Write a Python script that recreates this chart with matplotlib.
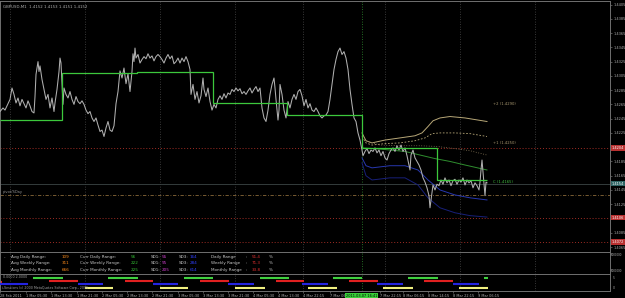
import matplotlib
matplotlib.use('Agg')
import matplotlib.pyplot as plt
import numpy as np

# ---------------- data ----------------
symbol_title = "GBPUSD,M1  1.4152 1.4153 1.4151 1.4152"

close_series = [
    (0, 1.4255), (3, 1.4260), (5, 1.4257), (8, 1.4266), (10, 1.4272), (12, 1.4288), (14, 1.4279),
    (16, 1.4267), (18, 1.4274), (20, 1.4263), (22, 1.4272), (24, 1.4266), (26, 1.4260), (28, 1.4270),
    (30, 1.4263), (32, 1.4255), (34, 1.4253), (35, 1.4276), (36, 1.4307), (37, 1.4316), (38, 1.4325),
    (39, 1.4311), (40, 1.4319), (42, 1.4300), (44, 1.4286), (46, 1.4272), (48, 1.4279), (50, 1.4260),
    (52, 1.4274), (54, 1.4255), (55, 1.4267), (57, 1.4286), (59, 1.4311), (60, 1.4330), (61, 1.4323),
    (62, 1.4293), (63, 1.4265), (64, 1.4288), (66, 1.4279), (68, 1.4274), (70, 1.4283), (72, 1.4272),
    (74, 1.4265), (76, 1.4276), (78, 1.4269), (80, 1.4266), (82, 1.4270), (84, 1.4265), (86, 1.4257),
    (88, 1.4252), (90, 1.4255), (92, 1.4246), (94, 1.4241), (96, 1.4246), (98, 1.4236), (100, 1.4227),
    (102, 1.4229), (104, 1.4220), (106, 1.4232), (108, 1.4241), (110, 1.4229), (112, 1.4227), (114, 1.4235),
    (116, 1.4266), (118, 1.4283), (120, 1.4312), (122, 1.4302), (124, 1.4316), (126, 1.4294), (128, 1.4308),
    (130, 1.4283), (132, 1.4311), (133, 1.4336), (134, 1.4325), (135, 1.4344), (136, 1.4330), (138, 1.4335),
    (140, 1.4323), (142, 1.4328), (144, 1.4332), (146, 1.4329), (148, 1.4336), (150, 1.4330), (152, 1.4333),
    (154, 1.4326), (156, 1.4332), (158, 1.4335), (160, 1.4332), (162, 1.4328), (164, 1.4323), (166, 1.4330),
    (168, 1.4335), (170, 1.4329), (172, 1.4333), (174, 1.4322), (176, 1.4325), (178, 1.4330), (180, 1.4323),
    (182, 1.4330), (184, 1.4325), (186, 1.4332), (188, 1.4325), (190, 1.4314), (191, 1.4279), (193, 1.4293),
    (195, 1.4272), (197, 1.4283), (199, 1.4267), (201, 1.4277), (203, 1.4302), (204, 1.4286), (206, 1.4276),
    (208, 1.4288), (210, 1.4269), (212, 1.4257), (214, 1.4265), (216, 1.4260), (218, 1.4272), (220, 1.4277),
    (222, 1.4272), (224, 1.4280), (226, 1.4274), (228, 1.4281), (230, 1.4279), (232, 1.4286), (234, 1.4283),
    (236, 1.4288), (238, 1.4284), (240, 1.4287), (242, 1.4280), (244, 1.4283), (246, 1.4279), (248, 1.4284),
    (250, 1.4288), (252, 1.4281), (254, 1.4286), (256, 1.4290), (258, 1.4283), (260, 1.4288), (262, 1.4260),
    (264, 1.4246), (266, 1.4241), (268, 1.4257), (270, 1.4279), (272, 1.4293), (274, 1.4302), (275, 1.4288),
    (276, 1.4272), (278, 1.4243), (279, 1.4257), (280, 1.4293), (282, 1.4279), (284, 1.4257), (286, 1.4246),
    (288, 1.4269), (290, 1.4260), (292, 1.4272), (294, 1.4279), (296, 1.4272), (298, 1.4283), (300, 1.4286),
    (302, 1.4277), (304, 1.4263), (306, 1.4272), (308, 1.4260), (310, 1.4266), (312, 1.4257), (314, 1.4255),
    (316, 1.4260), (318, 1.4255), (320, 1.4249), (322, 1.4246), (324, 1.4249), (326, 1.4250), (328, 1.4255),
    (330, 1.4272), (332, 1.4293), (334, 1.4314), (336, 1.4328), (338, 1.4339), (340, 1.4344), (342, 1.4335),
    (344, 1.4339), (346, 1.4330), (348, 1.4314), (350, 1.4286), (352, 1.4265), (354, 1.4246), (356, 1.4241),
    (358, 1.4225), (360, 1.4215), (362, 1.4201), (363, 1.4193), (365, 1.4199), (367, 1.4203), (369, 1.4196),
    (371, 1.4201), (373, 1.4199), (375, 1.4204), (377, 1.4197), (379, 1.4201), (381, 1.4193), (383, 1.4199),
    (385, 1.4190), (387, 1.4187), (389, 1.4196), (391, 1.4201), (393, 1.4204), (395, 1.4199), (397, 1.4207),
    (399, 1.4201), (401, 1.4208), (403, 1.4199), (405, 1.4204), (407, 1.4193), (409, 1.4180), (410, 1.4173),
    (411, 1.4194), (413, 1.4201), (415, 1.4190), (417, 1.4185), (419, 1.4180), (421, 1.4173), (423, 1.4162),
    (425, 1.4156), (427, 1.4148), (429, 1.4137), (430, 1.4120), (431, 1.4131), (432, 1.4142), (433, 1.4152),
    (435, 1.4145), (437, 1.4153), (439, 1.4151), (441, 1.4159), (443, 1.4153), (445, 1.4162), (447, 1.4155),
    (449, 1.4159), (451, 1.4151), (453, 1.4158), (455, 1.4160), (457, 1.4153), (459, 1.4159), (461, 1.4156),
    (463, 1.4162), (465, 1.4152), (467, 1.4159), (469, 1.4155), (471, 1.4158), (473, 1.4148), (475, 1.4155),
    (477, 1.4151), (479, 1.4145), (480, 1.4156), (481, 1.4173), (482, 1.4187), (483, 1.4170), (484, 1.4152),
    (485, 1.4137), (486, 1.4156), (487, 1.4155),
]

# daily open step line
step_edges = [0, 62, 137, 213, 287, 362, 437, 487]
step_levels = [1.4243, 1.4309, 1.4311, 1.4267, 1.4250, 1.4204, 1.4159]

# today's bands
band_x_ma = [362, 375, 390, 405, 420, 435, 450, 465, 487]
band_ma = [1.4204, 1.4203, 1.4201, 1.4199, 1.4194, 1.4189, 1.4185, 1.4180, 1.4173]

band_x_u1 = [362, 366, 372, 385, 400, 415, 422, 428, 433, 440, 450, 465, 487]
band_u1 = [1.4225, 1.4214, 1.4211, 1.4215, 1.4218, 1.4221, 1.4225, 1.4234, 1.4242, 1.4246, 1.4248, 1.4246, 1.4241]
band_x_u2 = [362, 366, 372, 385, 400, 415, 425, 432, 440, 455, 470, 487]
band_u2 = [1.4220, 1.4211, 1.4208, 1.4210, 1.4211, 1.4214, 1.4218, 1.4224, 1.4225, 1.4225, 1.4224, 1.4220]
band_x_u3 = [362, 380, 400, 420, 437, 455, 470, 487]
band_u3 = [1.4215, 1.4208, 1.4207, 1.4207, 1.4206, 1.4203, 1.4200, 1.4194]

band_x_low = [362, 366, 372, 390, 405, 418, 428, 440, 455, 470, 487]
band_l1 = [1.4190, 1.4179, 1.4176, 1.4179, 1.4179, 1.4173, 1.4159, 1.4145, 1.4138, 1.4134, 1.4131]
band_l2 = [1.4183, 1.4165, 1.4159, 1.4162, 1.4162, 1.4152, 1.4134, 1.4120, 1.4113, 1.4109, 1.4107]

red_levels = [1.4204, 1.4106, 1.4072]
red_labels = ["1.4204", "1.4106", "1.4072"]
pivot_level = 1.4138
bid_level = 1.4154
bid_label = "1.4154"
price_ticks = [1.4065, 1.4085, 1.4125, 1.4145, 1.4165, 1.4185, 1.4225, 1.4245, 1.4265,
               1.4285, 1.4305, 1.4325, 1.4345, 1.4365, 1.4385, 1.4405]

band_labels = ["+2 (1.4290)", "+1 (1.4250)", "C (1.4165)"]
band_label_prices = [1.4265, 1.4211, 1.4156]

grid_x = [10, 85, 160, 235, 303, 385, 460, 535]
separator_x = 362

# range panel
avg_labels = ["Avg Daily Range:", "Avg Weekly Range:", "Avg Monthly Range:"]
avg_vals = [109, 311, 666]
cur_labels = ["Curr Daily Range:", "Curr Weekly Range:", "Curr Monthly Range:"]
cur_vals = [56, 222, 225]
sd1_vals = [55, 95, 205]
sd3_vals = [164, 284, 614]
pct_labels = ["Daily Range", "Weekly Range", "Monthly Range"]
pct_vals = [51.4, 71.3, 33.8]

# sessions panel
sess_green = [(33, 63), (108, 138), (184, 213), (260, 289), (333, 362), (408, 438), (484, 488)]
sess_red = [(49, 78), (125, 153), (200, 229), (276, 304), (349, 378), (424, 453)]
sess_blue = [(0, 28), (78, 103), (153, 178), (228, 254), (302, 328), (377, 403), (453, 479)]
sess_yellow = [(85, 113), (160, 188), (235, 265), (308, 337), (383, 413), (459, 488)]

time_ticks = [0, 26, 51, 77, 102, 127, 152, 178, 203, 228, 253, 278, 303, 330, 380, 403, 428, 453, 478]
time_labels = ["28 Feb 2011", "1 Mar 05:30", "1 Mar 13:30", "1 Mar 21:30", "2 Mar 05:30", "2 Mar 13:30",
               "2 Mar 21:30", "3 Mar 05:30", "3 Mar 13:30", "3 Mar 21:30", "4 Mar 05:30", "4 Mar 13:30",
               "4 Mar 22:15", "7 Mar 06:", "7 Mar 22:15", "8 Mar 06:15", "8 Mar 14:15", "8 Mar 22:15",
               "9 Mar 06:15"]
cursor_time = "2011.03.07 16:41"

# ---------------- figure ----------------
W, H = 625, 298
fig = plt.figure(figsize=(W / 100, H / 100), dpi=100, facecolor='black')


def fy(p):
    return 1 - p / H


XR = 610 / W
ax = fig.add_axes([0, fy(252), XR, fy(1) - fy(252)])
ax1 = fig.add_axes([0, fy(274), XR, fy(252) - fy(274)])
ax2 = fig.add_axes([0, fy(291), XR, fy(274) - fy(291)])

FS = 3.0
RFS = 2.5
TFS = 2.5
for a in (ax, ax1, ax2):
    a.set_facecolor('black')
    a.set_xlim(0, 610)
    for s in a.spines.values():
        s.set_color('#707070')
        s.set_linewidth(0.7)
    for gx in grid_x:
        a.axvline(gx, color='#4a4a4a', lw=0.6, ls=(0, (1, 2)), zorder=0)
    a.axvline(separator_x, color='#2f8f2f', lw=0.6, ls=(0, (1, 2)), zorder=0)

# main chart
ax.set_ylim(1.4058, 1.4410)
for lv in red_levels:
    ax.axhline(lv, color='#a02c24', lw=0.7, ls=(0, (1, 2)), zorder=1)
ax.axhline(pivot_level, color='#8a6a3a', lw=0.6, ls=(0, (4, 2, 1, 2)), zorder=1)
ax.axhline(bid_level, color='#3c4646', lw=0.6, zorder=1)

cx = [p[0] for p in close_series]
cy = [p[1] for p in close_series]
ax.plot(cx, cy, color='#b0b0b0', lw=0.75, zorder=3)
ax.stairs(step_levels, step_edges, color='#3cc83c', lw=0.9, baseline=None, zorder=4)

ax.plot(band_x_ma, band_ma, color='#2f8f2f', lw=0.7, zorder=2)
ax.plot(band_x_u1, band_u1, color='#b8a878', lw=0.7, zorder=2)
ax.plot(band_x_u2, band_u2, color='#b8a878', lw=0.6, ls=(0, (2, 2)), zorder=2)
ax.plot(band_x_u3, band_u3, color='#8a7a5a', lw=0.6, ls=(0, (1, 2)), zorder=2)
ax.plot(band_x_low, band_l1, color='#2838b0', lw=0.7, zorder=2)
ax.plot(band_x_low, band_l2, color='#18207a', lw=0.7, zorder=2)

for txt, pr, col in zip(band_labels, band_label_prices, ['#a89870', '#a89870', '#40c040']):
    ax.text(493, pr, txt, color=col, fontsize=FS - 0.3, va='center', ha='left')

ax.text(3, pivot_level + 0.0001, "pivot/SDay", color='#909090', fontsize=FS - 0.4, va='bottom', ha='left')
ax.text(3, 1.4402, symbol_title, color='#b0b0b0', fontsize=FS - 0.2, va='center', ha='left')

ax.set_xticks([])
ax.yaxis.tick_right()
ax.set_yticks(price_ticks)
ax.set_yticklabels([f"{t:.4f}" for t in price_ticks])
ax.tick_params(axis='y', colors='#707070', labelcolor='#b0b0b0', labelsize=RFS, length=1.5, width=0.5, pad=0.8)

for lv, lb in zip(red_levels, red_labels):
    ax.text(1.003, lv, lb, transform=ax.get_yaxis_transform(), fontsize=RFS, color='white', va='center',
            ha='left', bbox=dict(boxstyle='square,pad=0.2', fc='#b83030', ec='none'), zorder=10, clip_on=False)
ax.text(1.003, bid_level, bid_label, transform=ax.get_yaxis_transform(), fontsize=RFS, color='white',
        va='center', ha='left', bbox=dict(boxstyle='square,pad=0.2', fc='#2f6464', ec='none'), zorder=10,
        clip_on=False)

# range panel
ax1.set_ylim(0, 1)
ax1.set_xticks([])
ax1.set_yticks([])
ax1.text(1.002, 0.85, "5000000", transform=ax1.transAxes, fontsize=2.0, color='#b0b0b0', va='center')
ax1.text(1.002, 0.12, "5000000", transform=ax1.transAxes, fontsize=2.0, color='#b0b0b0', va='center')
row_y = [0.77, 0.48, 0.2]
LBL = '#c8c8c8'
ax1.text(4, row_y[0], "-", color=LBL, fontsize=FS, va='center')
for i in range(3):
    y = row_y[i]
    ax1.text(11, y, avg_labels[i], color=LBL, fontsize=FS, va='center')
    ax1.text(62, y, str(avg_vals[i]), color='#ff8c1a', fontsize=FS, va='center')
    ax1.text(80, y, cur_labels[i], color=LBL, fontsize=FS, va='center')
    ax1.text(131, y, str(cur_vals[i]), color='#34c034', fontsize=FS, va='center')
    ax1.text(151, y, "SD1:", color=LBL, fontsize=FS, va='center')
    ax1.text(162, y, str(sd1_vals[i]), color='#d040d0', fontsize=FS, va='center')
    ax1.text(179, y, "SD3:", color=LBL, fontsize=FS, va='center')
    ax1.text(190, y, str(sd3_vals[i]), color='#3040ff', fontsize=FS, va='center')
    ax1.text(211, y, pct_labels[i], color=LBL, fontsize=FS, va='center')
    ax1.text(246, y, ":", color=LBL, fontsize=FS, va='center')
    ax1.text(252, y, f"{pct_vals[i]:.1f}", color='#e03030', fontsize=FS, va='center')
    ax1.text(269, y, "%", color=LBL, fontsize=FS, va='center')

# sessions panel
ax2.set_ylim(0, 5)
ax2.set_yticks([])
for spans, yv, col in [(sess_green, 3.85, '#40d040'), (sess_red, 2.95, '#e02020'),
                       (sess_blue, 2.05, '#2424e0'), (sess_yellow, 0.9, '#f0f080')]:
    for s0, s1 in spans:
        ax2.hlines(yv, s0, s1, colors=col, lw=1.5, zorder=3)
ax2.text(3, 4.1, "0.0000 2.0000", color='#a0a0a0', fontsize=FS - 0.7, va='center', zorder=4)
ax2.hlines(2.75, 0, 2, colors='#e02020', lw=1.5)
ax2.text(2, 0.95, "i-Sessions (c) 2000 MetaQuotes Software Corp., 2005", color='#a0a0a0',
         fontsize=FS - 0.7, va='center', zorder=4)
ax2.text(1.004, 3.8, "5", transform=ax2.get_yaxis_transform(), fontsize=2.2, color='#b0b0b0', va='center')
ax2.text(1.004, 0.9, "0", transform=ax2.get_yaxis_transform(), fontsize=2.2, color='#b0b0b0', va='center')

ax2.set_xticks(time_ticks)
ax2.set_xticklabels(time_labels)
ax2.tick_params(axis='x', colors='#707070', labelcolor='#b0b0b0', labelsize=TFS, length=1.5, width=0.5, pad=0.8)
for lab in ax2.get_xticklabels():
    lab.set_horizontalalignment('left')
ax2.text(346, -0.9, cursor_time, transform=ax2.transData, fontsize=TFS, color='black', va='top', ha='left',
         bbox=dict(boxstyle='square,pad=0.2', fc='#38d038', ec='none'), clip_on=False, zorder=10)

fig.savefig('out.png', dpi=100, facecolor='black')
